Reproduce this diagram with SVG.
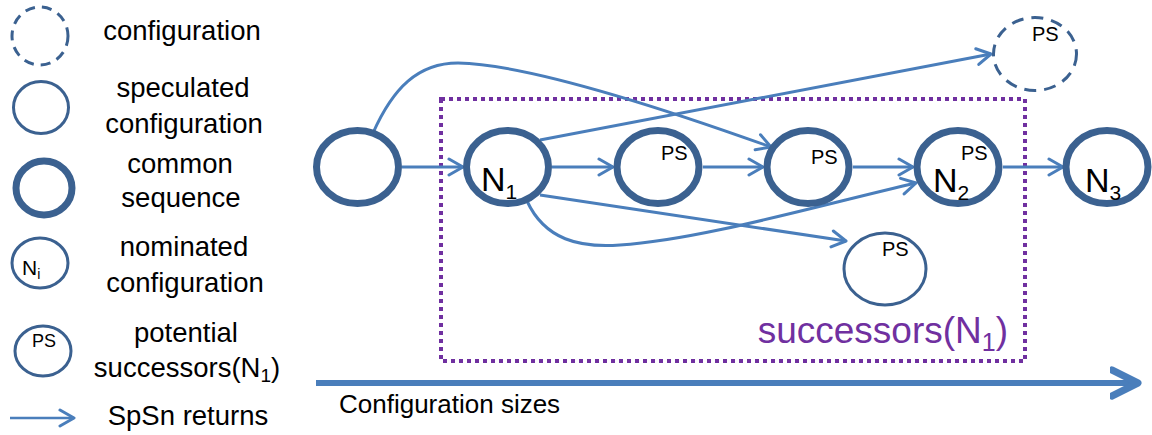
<svg xmlns="http://www.w3.org/2000/svg" width="1152" height="435" viewBox="0 0 1152 435">
<defs>
<style>
text{font-family:"Liberation Sans",Arial,sans-serif;fill:#000}
.lg{font-size:27.5px;text-anchor:middle}
.thick{fill:#fff;stroke:#3B6190;stroke-width:7}
.thin{fill:#fff;stroke:#3B6190;stroke-width:3}
.dash{fill:#fff;stroke:#3B6190;stroke-width:3;stroke-dasharray:12 8}
.con{fill:none;stroke:#4A7EBB;stroke-width:3;marker-end:url(#ah)}
.ps{font-size:20px}
.nn{font-size:34px}
.sub{font-size:21px}
</style>
<marker id="ah" viewBox="-16 -10 18 20" refX="0" refY="0" markerWidth="18" markerHeight="20" markerUnits="userSpaceOnUse" orient="auto">
<path d="M-14,-8 L0,0 L-14,8" fill="none" stroke="#4A7EBB" stroke-width="3" stroke-linecap="round" stroke-linejoin="round"/>
</marker>
<marker id="bah" viewBox="-30 -17 32 34" refX="0" refY="0" markerWidth="32" markerHeight="34" markerUnits="userSpaceOnUse" orient="auto">
<path d="M-28,-13 L-2,0 L-28,13" fill="none" stroke="#4A7EBB" stroke-width="7" stroke-linecap="round" stroke-linejoin="round"/>
</marker>
</defs>

<g id="legend">
<ellipse cx="40" cy="36" rx="28" ry="29" fill="#fff" stroke="#3B6190" stroke-width="3" stroke-dasharray="10 7"/>
<text class="lg" x="182" y="40">configuration</text>
<ellipse class="thin" cx="41" cy="107.5" rx="27.5" ry="26" stroke-width="2.5"/>
<text class="lg" x="183" y="97">speculated</text>
<text class="lg" x="184" y="133">configuration</text>
<ellipse class="thick" cx="44" cy="188" rx="28" ry="27" stroke-width="6"/>
<text class="lg" x="180" y="173">common</text>
<text class="lg" x="181" y="207">sequence</text>
<ellipse class="thin" cx="40" cy="263" rx="28" ry="25" stroke-width="2.5"/>
<text x="22" y="275" font-size="21px">N<tspan font-size="14px" dy="4">i</tspan></text>
<text class="lg" x="184" y="256">nominated</text>
<text class="lg" x="185" y="292">configuration</text>
<ellipse class="thin" cx="43" cy="351" rx="28" ry="25" stroke-width="2.5"/>
<text x="32" y="347" font-size="18px">PS</text>
<text class="lg" x="186" y="342">potential</text>
<text class="lg" x="187" y="377">successors(N<tspan font-size="19px" dy="5">1</tspan><tspan dy="-5">)</tspan></text>
<line x1="10" y1="418" x2="74" y2="418" stroke="#4A7EBB" stroke-width="2.5" marker-end="url(#ah)"/>
<text class="lg" x="188" y="425">SpSn returns</text>
</g>

<g id="successors-box">
<rect x="441" y="99" width="584" height="262" fill="none" stroke="#7030A0" stroke-width="4" stroke-dasharray="4 4"/>
<text x="1008" y="343" font-size="37px" text-anchor="end" style="fill:#7030A0">successors(N<tspan font-size="25px" dy="8">1</tspan><tspan dy="-8">)</tspan></text>
</g>

<g id="axis">
<line x1="316" y1="383" x2="1140" y2="383" stroke="#4A7EBB" stroke-width="6" marker-end="url(#bah)"/>
<text x="339" y="413" font-size="26px">Configuration sizes</text>
</g>

<g id="connectors">
<line class="con" x1="402" y1="167" x2="463" y2="167"/>
<line class="con" x1="552" y1="167" x2="613" y2="167"/>
<line class="con" x1="703" y1="167" x2="763" y2="167"/>
<line class="con" x1="853" y1="167" x2="913" y2="167"/>
<line class="con" x1="1003" y1="167" x2="1063" y2="167"/>
<path class="con" d="M373,133 C393,88 418,63 458,63 C520,64 640,100 771,147"/>
<line class="con" x1="540" y1="140" x2="991" y2="54"/>
<line class="con" x1="540" y1="195" x2="846" y2="241"/>
<path class="con" d="M527,201 C545,240 580,248 620,245 C700,240 820,205 916,183"/>
</g>

<g id="node-start"><ellipse class="thick" cx="357.5" cy="167" rx="41" ry="36.5"/></g>
<g id="node-n1"><ellipse class="thick" cx="507.5" cy="167" rx="41" ry="36.5"/>
<text class="nn" x="481" y="191">N<tspan class="sub" dy="8">1</tspan></text></g>
<g id="node-ps1"><ellipse class="thick" cx="658" cy="167" rx="41" ry="36.5"/>
<text class="ps" x="661" y="160">PS</text></g>
<g id="node-ps2"><ellipse class="thick" cx="808" cy="167" rx="41" ry="36.5"/>
<text class="ps" x="811" y="164">PS</text></g>
<g id="node-n2"><ellipse class="thick" cx="958" cy="167" rx="41" ry="36.5"/>
<text class="ps" x="961" y="160">PS</text>
<text class="nn" x="933" y="192">N<tspan class="sub" dy="8">2</tspan></text></g>
<g id="node-n3"><ellipse class="thick" cx="1107" cy="167" rx="41" ry="36.5"/>
<text class="nn" x="1085" y="192">N<tspan class="sub" dy="8">3</tspan></text></g>
<g id="node-ps-dashed"><ellipse class="dash" cx="1035" cy="54" rx="41.5" ry="36.5"/>
<text class="ps" x="1032" y="41">PS</text></g>
<g id="node-ps-low"><ellipse class="thin" cx="885" cy="269" rx="41" ry="36"/>
<text class="ps" x="882" y="256">PS</text></g>
</svg>
